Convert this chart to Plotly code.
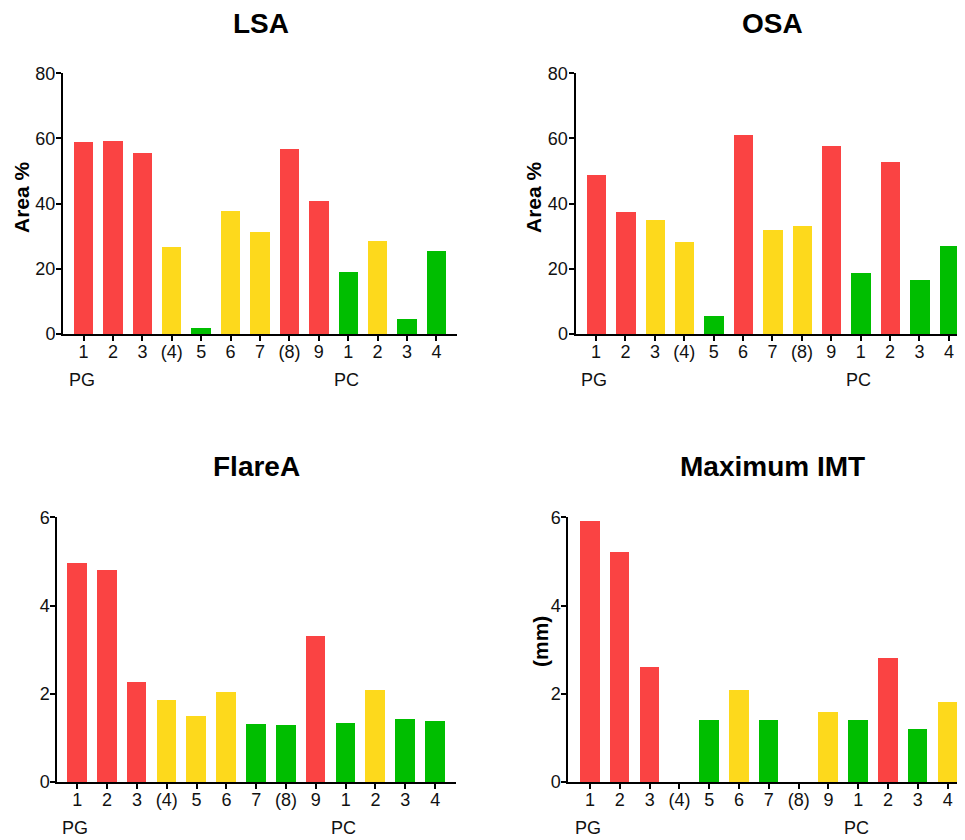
import plotly.graph_objects as go

labels = ["1", "2", "3", "(4)", "5", "6", "7", "(8)", "9", "1", "2", "3", "4"]
positions = list(range(len(labels)))

lsa_values = [58.8, 59.0, 55.3, 26.7, 1.9, 37.6, 31.1, 56.6, 40.6, 18.9, 28.5, 4.6, 25.5]
lsa_colors = ["R", "R", "R", "Y", "G", "Y", "Y", "R", "R", "G", "Y", "G", "G"]

osa_values = [48.7, 37.5, 35.0, 28.1, 5.3, 61.0, 31.9, 33.1, 57.5, 18.7, 52.7, 16.5, 26.8]
osa_colors = ["R", "R", "Y", "Y", "G", "R", "Y", "Y", "R", "G", "R", "G", "G"]

flare_values = [4.95, 4.81, 2.27, 1.86, 1.48, 2.04, 1.31, 1.28, 3.31, 1.32, 2.09, 1.42, 1.38]
flare_colors = ["R", "R", "R", "Y", "Y", "Y", "G", "G", "R", "G", "Y", "G", "G"]

imt_values = [5.90, 5.21, 2.60, None, 1.40, 2.09, 1.40, None, 1.59, 1.40, 2.80, 1.19, 1.80]
imt_colors = ["R", "R", "R", "G", "G", "Y", "G", "G", "Y", "G", "R", "G", "Y"]

palette = {"R": "#FA4343", "Y": "#FDD91C", "G": "#00BE00"}

W, H = 965, 840
OFF = 8  # page body margin offset
FONT = "Arial, Liberation Sans, sans-serif"


def px(x):
    return (x - OFF) / W


def py(y):
    return 1 - (y - OFF) / H


panels = [
    dict(title="LSA", values=lsa_values, colors=lsa_colors, ytitle="Area %",
         xdom=(63, 457), ydom=(73.3, 334), xr=[-0.7, 12.7], yr=[0, 80], dtick=20,
         title_xy=(261, 23), ytitle_xy=(22, 197), group_y=380),
    dict(title="OSA", values=osa_values, colors=osa_colors, ytitle="Area %",
         xdom=(575.5, 973), ydom=(73.3, 334), xr=[-0.7, 12.82], yr=[0, 80], dtick=20,
         title_xy=(772, 23), ytitle_xy=(534, 197), group_y=380),
    dict(title="FlareA", values=flare_values, colors=flare_colors, ytitle=None,
         xdom=(57.3, 456), ydom=(517.3, 782), xr=[-0.67, 12.7], yr=[0, 6], dtick=2,
         title_xy=(257, 467), ytitle_xy=None, group_y=828),
    dict(title="Maximum IMT", values=imt_values, colors=imt_colors, ytitle="(mm)",
         xdom=(568.3, 973), ydom=(517.3, 782), xr=[-0.73, 12.85], yr=[0, 6], dtick=2,
         title_xy=(772, 467), ytitle_xy=(540, 642), group_y=828),
]

fig = go.Figure()
annotations = []
layout = {}
for i, p in enumerate(panels, start=1):
    sx = "" if i == 1 else str(i)
    fig.add_trace(go.Bar(
        x=positions, y=p["values"],
        marker=dict(color=[palette[c] for c in p["colors"]], line=dict(width=0)),
        width=0.66, xaxis="x" + sx, yaxis="y" + sx, showlegend=False,
        hoverinfo="y",
    ))
    layout["xaxis" + sx] = dict(
        domain=[px(p["xdom"][0]), min(px(p["xdom"][1]), 1.0)],
        range=p["xr"], anchor="y" + sx, automargin=False,
        tickmode="array", tickvals=positions, ticktext=labels,
        ticks="outside", ticklen=5, tickwidth=1.5, tickcolor="black",
        ticklabelstandoff=-5,
        showline=True, linecolor="black", linewidth=2,
        showgrid=False, zeroline=False, fixedrange=True,
        tickfont=dict(family=FONT, size=18, color="#111"),
    )
    layout["yaxis" + sx] = dict(
        domain=[py(p["ydom"][1]), py(p["ydom"][0])],
        range=p["yr"], anchor="x" + sx, dtick=p["dtick"], tick0=0, automargin=False,
        ticks="outside", ticklen=5, tickwidth=1.5, tickcolor="black",
        ticklabelstandoff=-3,
        showline=True, linecolor="black", linewidth=2,
        showgrid=False, zeroline=False, fixedrange=True,
        tickfont=dict(family=FONT, size=18, color="#111"),
    )
    annotations.append(dict(
        text="<b>%s</b>" % p["title"], x=px(p["title_xy"][0]), y=py(p["title_xy"][1]),
        xref="paper", yref="paper", xanchor="center", yanchor="middle",
        showarrow=False, font=dict(family=FONT, size=28, color="black"),
    ))
    if p["ytitle"]:
        annotations.append(dict(
            text="<b>%s</b>" % p["ytitle"], x=px(p["ytitle_xy"][0]), y=py(p["ytitle_xy"][1]),
            xref="paper", yref="paper", xanchor="center", yanchor="middle",
            textangle=-90, showarrow=False, font=dict(family=FONT, size=21, color="black"),
        ))
    for gx, gname in [(0, "PG"), (9, "PC")]:
        annotations.append(dict(
            text=gname, x=gx, xref="x" + sx, y=py(p["group_y"]), yref="paper",
            xanchor="center", yanchor="middle", xshift=-2, showarrow=False,
            font=dict(family=FONT, size=18, color="#111"),
        ))

fig.update_layout(
    width=W, height=H, margin=dict(l=0, r=0, t=0, b=0, pad=0, autoexpand=False),
    paper_bgcolor="white", plot_bgcolor="white",
    annotations=annotations, bargap=0, **layout,
)

fig.write_html("out.html")
